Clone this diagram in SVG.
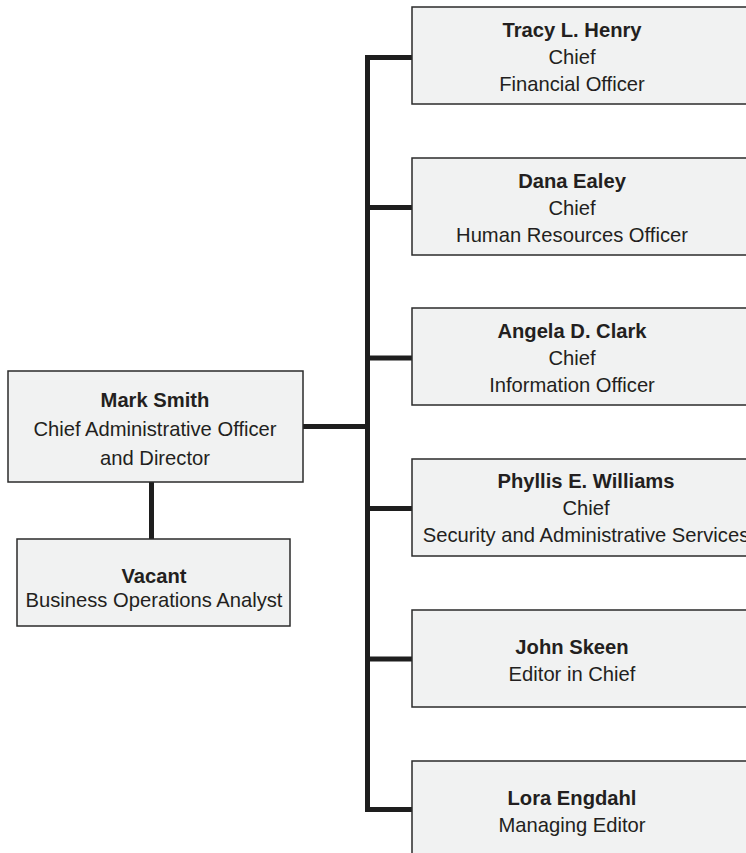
<svg xmlns="http://www.w3.org/2000/svg" width="746" height="853" viewBox="0 0 746 853">
<style>
.box{fill:#f1f2f2;stroke:#2b2b2b;stroke-width:1.5}
.conn{fill:none;stroke:#1e1e1e;stroke-width:5;stroke-linejoin:miter;stroke-linecap:butt}
text{font-family:"Liberation Sans",Arial,sans-serif;font-size:20.2px;fill:#231f20;text-anchor:middle}
.b{font-weight:bold}
</style>
<rect width="746" height="853" fill="#ffffff"/>
<g id="connectors">
<path class="conn" d="M412,57.5 H367.5 V809.5 H412"/>
<path class="conn" d="M367.5,207.5 H412 M367.5,358 H412 M367.5,508.5 H412 M367.5,659 H412"/>
<path class="conn" d="M303,426.5 H367.5"/>
<path class="conn" d="M151.5,482 V539"/>
</g>
<g id="mark-smith">
<rect class="box" x="8" y="371" width="295" height="111"/>
<text x="155" y="407" class="b">Mark Smith</text>
<text x="155" y="436">Chief Administrative Officer</text>
<text x="155" y="465">and Director</text>
</g>
<g id="vacant">
<rect class="box" x="17" y="539" width="273" height="87"/>
<text x="154" y="583" class="b">Vacant</text>
<text x="154" y="607">Business Operations Analyst</text>
</g>
<g id="tracy-henry">
<rect class="box" x="412" y="7" width="350" height="97"/>
<text x="572" y="37" class="b">Tracy L. Henry</text>
<text x="572" y="64">Chief</text>
<text x="572" y="91">Financial Officer</text>
</g>
<g id="dana-ealey">
<rect class="box" x="412" y="158" width="350" height="97"/>
<text x="572" y="188" class="b">Dana Ealey</text>
<text x="572" y="215">Chief</text>
<text x="572" y="242">Human Resources Officer</text>
</g>
<g id="angela-clark">
<rect class="box" x="412" y="308" width="350" height="97"/>
<text x="572" y="338" class="b">Angela D. Clark</text>
<text x="572" y="365">Chief</text>
<text x="572" y="392">Information Officer</text>
</g>
<g id="phyllis-williams">
<rect class="box" x="412" y="459" width="350" height="97"/>
<text x="586" y="488" class="b">Phyllis E. Williams</text>
<text x="586" y="515">Chief</text>
<text x="586" y="542">Security and Administrative Services</text>
</g>
<g id="john-skeen">
<rect class="box" x="412" y="610" width="350" height="97"/>
<text x="572" y="654" class="b">John Skeen</text>
<text x="572" y="681">Editor in Chief</text>
</g>
<g id="lora-engdahl">
<rect class="box" x="412" y="761" width="350" height="97"/>
<text x="572" y="805" class="b">Lora Engdahl</text>
<text x="572" y="832">Managing Editor</text>
</g>
</svg>
